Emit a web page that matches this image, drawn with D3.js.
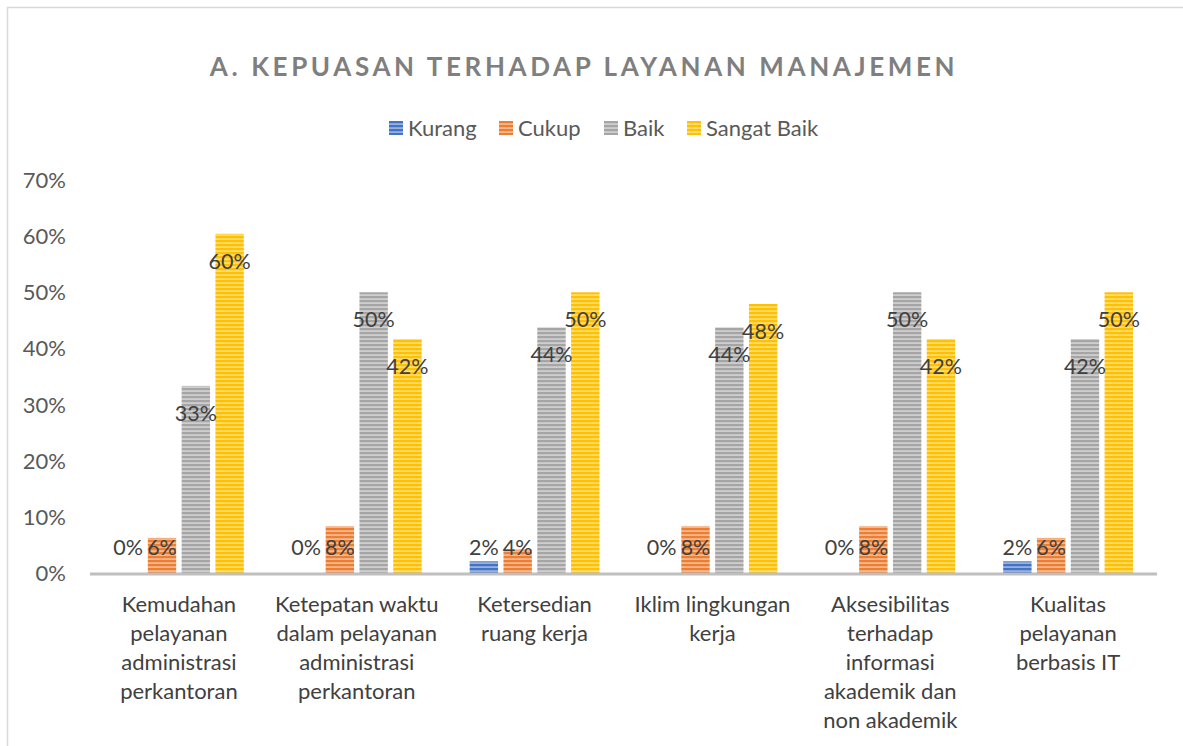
<!DOCTYPE html>
<html>
<head>
<meta charset="utf-8">
<script src="https://cdn.jsdelivr.net/npm/d3@7"></script>
<style>
  body { margin: 0; background: #fff; }
  svg { display: block; font-family: Lato, "Open Sans", sans-serif; }
</style>
</head>
<body>
<div id="chart"></div>
<script>
var categories = [
    ["Kemudahan", "pelayanan", "administrasi", "perkantoran"],
    ["Ketepatan waktu", "dalam pelayanan", "administrasi", "perkantoran"],
    ["Ketersedian", "ruang kerja"],
    ["Iklim lingkungan", "kerja"],
    ["Aksesibilitas", "terhadap", "informasi", "akademik dan", "non akademik"],
    ["Kualitas", "pelayanan", "berbasis IT"]
];
var seriesNames = ["Kurang", "Cukup", "Baik", "Sangat Baik"];
var seriesColors = ["#4472c4", "#ed7d31", "#a5a5a5", "#ffc000"];
// percentages per category
var kurang = [0, 0, 2.08, 0, 0, 2.08];
var cukup = [6.25, 8.33, 4.17, 8.33, 8.33, 6.25];
var baik = [33.33, 50, 43.75, 43.75, 50, 41.67];
var sangatBaik = [60.42, 41.67, 50, 47.92, 41.67, 50];
var yTicks = [0, 10, 20, 30, 40, 50, 60, 70];

var series = [kurang, cukup, baik, sangatBaik];

var width = 1183, height = 746;
var svg = d3.select("#chart").append("svg")
    .attr("width", width)
    .attr("height", height);

//chart frame
svg.append("rect")
    .attr("x", 7.5).attr("y", 7.5)
    .attr("width", 1200).attr("height", 800)
    .attr("fill", "none")
    .attr("stroke", "#d9d9d9")
    .attr("stroke-width", 1.5);

//striped fills
var defs = svg.append("defs");
seriesColors.forEach(function(c, i){
    var p = defs.append("pattern")
        .attr("id", "stripe" + i)
        .attr("patternUnits", "userSpaceOnUse")
        .attr("width", 8).attr("height", 4);
    p.append("rect").attr("width", 8).attr("height", 4)
        .attr("fill", d3.interpolateRgb(c, "#ffffff")(0.45));
    p.append("rect").attr("width", 8).attr("height", 2.2)
        .attr("fill", c);
});

svg.append("text")
    .attr("x", 584).attr("y", 76)
    .attr("text-anchor", "middle")
    .attr("fill", "#7f7f7f")
    .attr("font-size", 26)
    .attr("font-weight", "bold")
    .attr("letter-spacing", 3.6)
    .text("A. KEPUASAN TERHADAP LAYANAN MANAJEMEN");

//legend
var legendX = [389, 499, 604, 687];
seriesNames.forEach(function(name, i){
    var g = svg.append("g").attr("transform", "translate(" + legendX[i] + ",121)");
    g.append("rect").attr("width", 14).attr("height", 14)
        .attr("fill", "url(#stripe" + i + ")");
    g.append("text").attr("x", 19).attr("y", 15)
        .attr("font-size", 22).attr("fill", "#595959")
        .text(name);
});

var x0 = d3.scaleBand()
    .domain(d3.range(categories.length))
    .range([90, 1157])
    .paddingInner(0.27)
    .paddingOuter(0.135);
var x1 = d3.scaleBand()
    .domain(d3.range(series.length))
    .range([0, x0.bandwidth()])
    .paddingInner(0.16);
var y = d3.scaleLinear().domain([0, 70]).range([573, 180]);

//y axis labels
svg.append("g").selectAll("text")
    .data(yTicks).join("text")
    .attr("x", 66)
    .attr("y", function(d){ return y(d) + 8; })
    .attr("text-anchor", "end")
    .attr("font-size", 22)
    .attr("fill", "#595959")
    .text(function(d){ return d + "%"; });

//bars
var groups = svg.append("g").selectAll("g")
    .data(categories).join("g")
    .attr("transform", function(d, i){ return "translate(" + x0(i) + ",0)"; });

groups.each(function(d, ci){
    var g = d3.select(this);
    series.forEach(function(vals, si){
        var v = vals[ci];
        if( v > 0 ){
            g.append("rect")
                .attr("x", x1(si))
                .attr("y", y(v))
                .attr("width", x1.bandwidth())
                .attr("height", y(0) - y(v))
                .attr("fill", "url(#stripe" + si + ")");
        }
    });
});

//x axis line
svg.append("line")
    .attr("x1", 90).attr("x2", 1157)
    .attr("y1", 574).attr("y2", 574)
    .attr("stroke", "#bfbfbf")
    .attr("stroke-width", 3);

//data labels
groups.each(function(d, ci){
    var g = d3.select(this);
    series.forEach(function(vals, si){
        var v = vals[ci];
        var ly = Math.min(y(v) + 27, y(0) - 26);
        g.append("text")
            .attr("x", x1(si) + x1.bandwidth() / 2)
            .attr("y", ly + 8)
            .attr("text-anchor", "middle")
            .attr("font-size", 21.5)
            .attr("fill", "#404040")
            .text(Math.round(v) + "%");
    });
});

//category labels
groups.each(function(lines, ci){
    var t = d3.select(this).append("text")
        .attr("text-anchor", "middle")
        .attr("font-size", 22)
        .attr("fill", "#404040");
    lines.forEach(function(line, li){
        t.append("tspan")
            .attr("x", x0.bandwidth() / 2)
            .attr("y", 612 + li * 29)
            .text(line);
    });
});
</script>
</body>
</html>
